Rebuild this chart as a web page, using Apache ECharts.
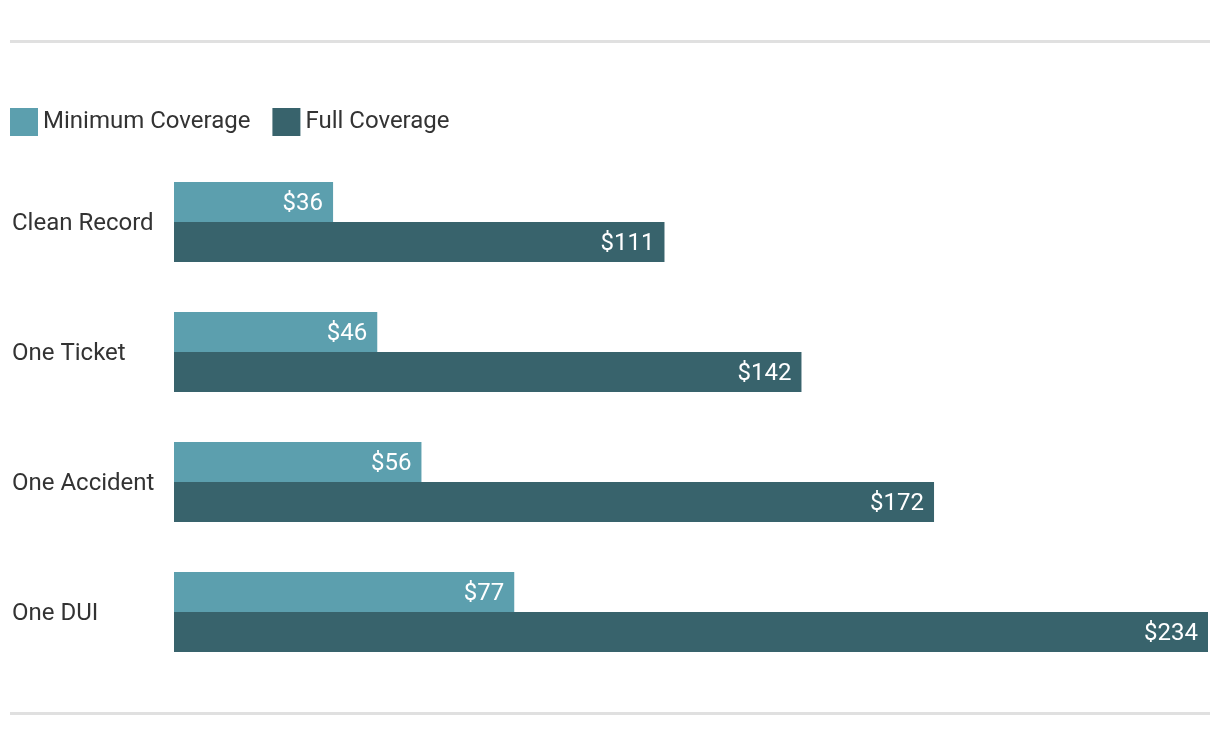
<!DOCTYPE html>
<html>
<head>
<meta charset="utf-8">
<script src="https://cdn.jsdelivr.net/npm/echarts@6/dist/echarts.min.js"></script>
<style>
html,body{margin:0;padding:0;background:#fff;}
#chart{width:1220px;height:748px;}
</style>
</head>
<body>
<div id="chart"></div>
<script>
const categories = ['Clean Record', 'One Ticket', 'One Accident', 'One DUI'];
const minimumCoverage = [36, 46, 56, 77];
const fullCoverage = [111, 142, 172, 234];
const seriesNames = ['Minimum Coverage', 'Full Coverage'];

const FONT = 'Roboto, "Noto Sans", sans-serif';
const chart = echarts.init(document.getElementById('chart'));
chart.setOption({
  animation: false,
  textStyle: { fontFamily: FONT },
  graphic: [
    { type: 'rect', shape: { x: 10, y: 40, width: 1200, height: 3 }, style: { fill: '#e0e0e0' } },
    { type: 'rect', shape: { x: 10, y: 712, width: 1200, height: 3 }, style: { fill: '#e0e0e0' } }
  ],
  legend: {
    left: 5, top: 103,
    itemWidth: 28, itemHeight: 28, itemGap: 22,
    icon: 'rect',
    textStyle: { fontSize: 24, color: '#333', fontFamily: FONT },
    data: seriesNames
  },
  grid: { left: 174, right: 12, top: 157, bottom: 71, containLabel: false },
  xAxis: {
    type: 'value', min: 0, max: 234, show: false
  },
  yAxis: {
    type: 'category', data: categories, inverse: true,
    axisLine: { show: false }, axisTick: { show: false },
    axisLabel: {
      align: 'left', margin: 162, fontSize: 24, color: '#333', fontFamily: FONT,
      formatter: v => '{a|' + v + '}',
      rich: { a: { fontSize: 24, color: '#333', fontFamily: FONT, padding: [4, 0, 0, 0] } }
    }
  },
  series: [
    {
      name: seriesNames[0], type: 'bar', data: minimumCoverage,
      barWidth: 40, barGap: 0,
      itemStyle: { color: '#5c9fae' },
      label: { show: true, position: 'insideRight', distance: 10, offset: [0, 2], color: '#fff', fontSize: 24, fontFamily: FONT, formatter: p => '$' + p.value }
    },
    {
      name: seriesNames[1], type: 'bar', data: fullCoverage,
      barWidth: 40, barGap: 0,
      itemStyle: { color: '#38636c' },
      label: { show: true, position: 'insideRight', distance: 10, offset: [0, 2], color: '#fff', fontSize: 24, fontFamily: FONT, formatter: p => '$' + p.value }
    }
  ]
});
</script>
</body>
</html>
